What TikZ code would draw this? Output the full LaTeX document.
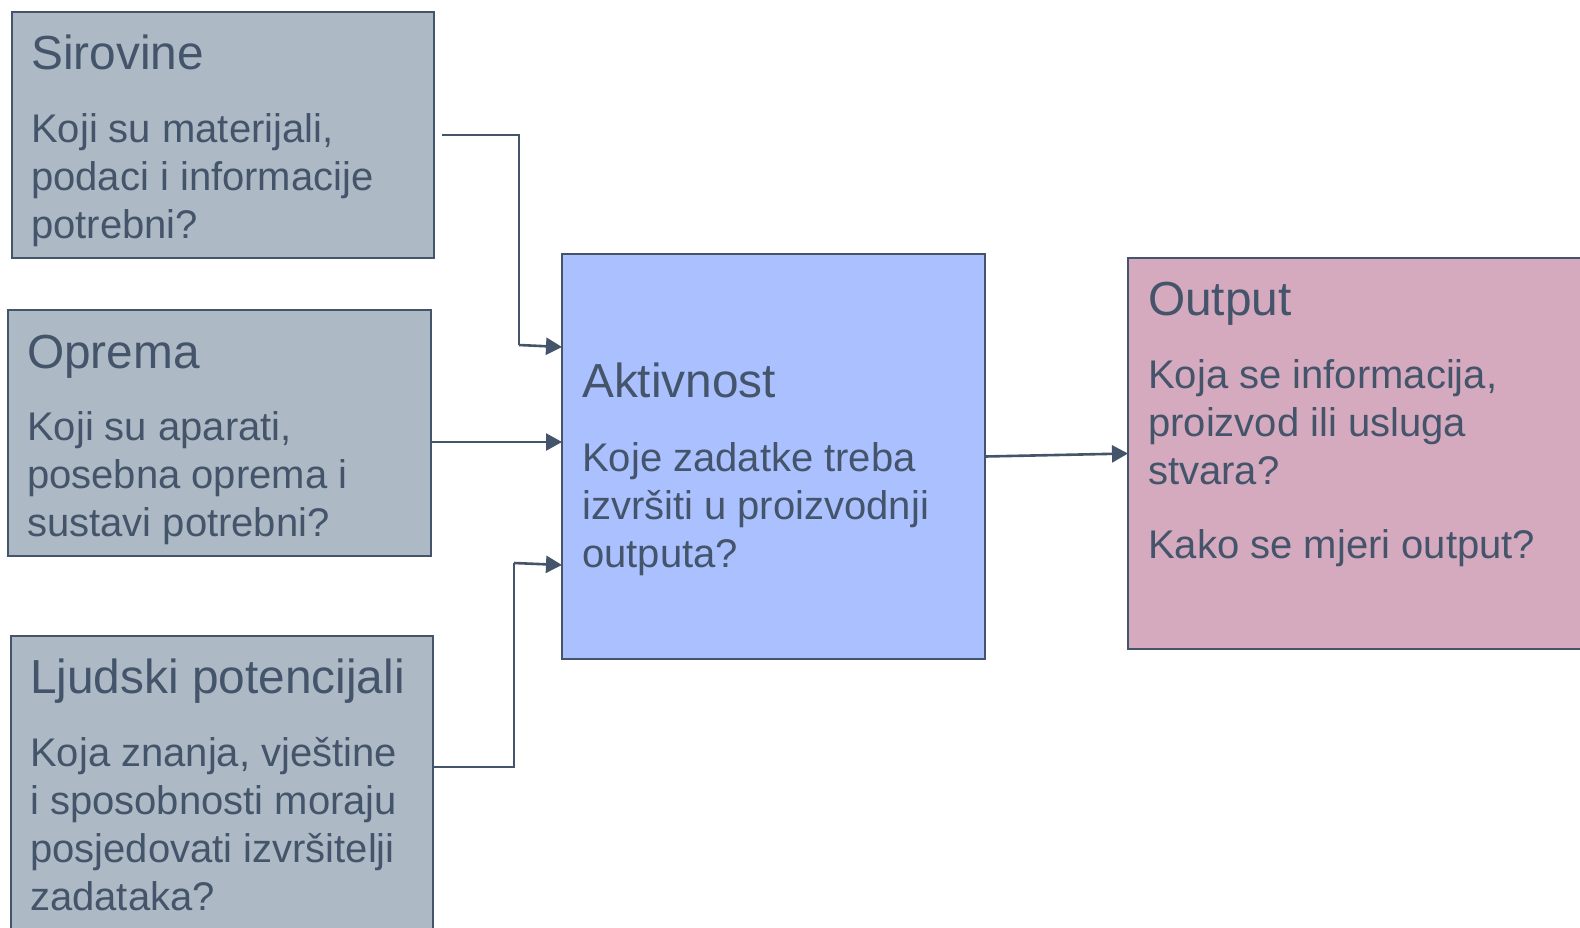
\documentclass[tikz,border=0pt]{standalone}
\usepackage{fontspec}
\setmainfont{Liberation Sans}
\usetikzlibrary{arrows.meta,calc}
\definecolor{ink}{HTML}{44546A}
\definecolor{greyfill}{HTML}{ADB9C4}
\definecolor{bluefill}{HTML}{ABC0FF}
\definecolor{pinkfill}{HTML}{D5A9BE}
\begin{document}
\begin{tikzpicture}[x=1pt,y=-1pt,
  box/.style={draw=ink,line width=2pt,inner sep=0pt,outer sep=0pt},
  titletext/.style={anchor=base west,inner sep=0pt,text=ink,font=\fontsize{47.8}{57}\selectfont},
  bodytext/.style={anchor=base west,inner sep=0pt,text=ink,font=\fontsize{40}{48}\selectfont},
  conn/.style={draw=ink,line width=2.6pt},
  arr/.style={conn,-{Triangle[length=16pt,width=17pt]}}]
\useasboundingbox (0,0) rectangle (1580,927);
\clip (0,0) rectangle (1580,927);
\fill[white] (0,0) rectangle (1580,927);

% boxes
\node[box,fill=greyfill,minimum width=422pt,minimum height=246pt] (sir) at (223,135) {};
\node[box,fill=greyfill,minimum width=423pt,minimum height=246pt] (opr) at (219.5,433) {};
\node[box,fill=greyfill,minimum width=422pt,minimum height=309pt] (lju) at (222,790.5) {};
\node[box,fill=bluefill,minimum width=423pt,minimum height=405pt] (akt) at (773.5,456.5) {};
\node[box,fill=pinkfill,minimum width=472pt,minimum height=391pt] (out) at (1364,453.5) {};

% texts
\node[titletext] (sirT) at (31,69) {Sirovine};
\node[bodytext] (sirB) at (31,142) {\vtop{\hbox{Koji su materijali,}\hbox{podaci i informacije}\hbox{potrebni?}}};

\node[titletext] (oprT) at (27,368) {Oprema};
\node[bodytext] (oprB) at (27,440) {\vtop{\hbox{Koji su aparati,}\hbox{posebna oprema i}\hbox{sustavi potrebni?}}};

\node[titletext] (ljuT) at (30,693) {Ljudski potencijali};
\node[bodytext] (ljuB) at (30,766) {\vtop{\hbox{Koja znanja, vještine}\hbox{i sposobnosti moraju}\hbox{posjedovati izvršitelji}\hbox{zadataka?}}};

\node[titletext] (aktT) at (582,397) {Aktivnost};
\node[bodytext] (aktB) at (582,471) {\vtop{\hbox{Koje zadatke treba}\hbox{izvršiti u proizvodnji}\hbox{outputa?}}};

\node[titletext] (outT) at (1148,315) {Output};
\node[bodytext] (outB) at (1148,388) {\vtop{\hbox{Koja se informacija,}\hbox{proizvod ili usluga}\hbox{stvara?}\vskip26pt\hbox{Kako se mjeri output?}}};

% connector points
\coordinate (c1s) at ($(sir.east)+(8,0)$);
\coordinate (c1b) at (519,345);
\coordinate (a1) at (562,347);
\coordinate (a2) at (562,442);
\coordinate (c3s) at (434,767);
\coordinate (c3b) at (514,563);
\coordinate (a3) at (562,565);

\draw[conn] (c1s) -| (c1b);
\draw[arr] (c1b) -- (a1);
\draw[arr] (opr.east |- a2) -- (a2);
\draw[conn] (c3s) -| (c3b);
\draw[arr] (c3b) -- (a3);
\draw[arr] (akt.east) -- (out.west);
\end{tikzpicture}
\end{document}
